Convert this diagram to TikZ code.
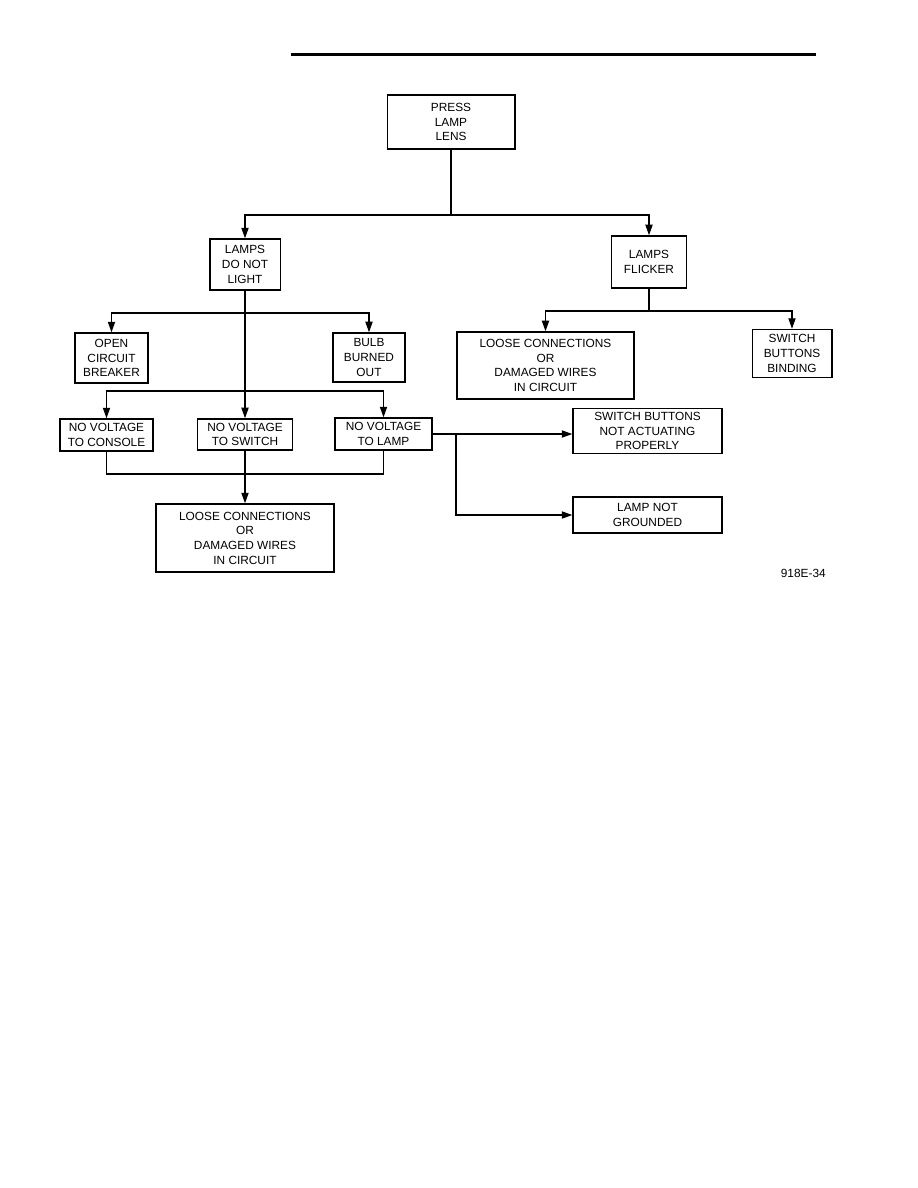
\documentclass[tikz,border=0pt]{standalone}
\usepackage{fontspec}
\setmainfont{Liberation Sans}
\usetikzlibrary{arrows.meta}

\tikzset{
  box/.style={draw, line width=1pt, inner sep=1pt, align=center,
    font=\fontsize{7.9}{9.8}\selectfont},
  arw/.style={-{Triangle[length=7pt,width=4.8pt]}},
  wire/.style={line width=0.8pt}
}

\begin{document}
\begin{tikzpicture}[x=0.66667pt, y=-0.66667pt]
\useasboundingbox (0,0) rectangle (918,1188);
\draw [line width=2pt] (291,54) -- (816,54);

% first level
\node (press) [box, minimum width=85pt, minimum height=36pt] at (451,122) {PRESS\\LAMP\\LENS};
\node (nolight) [box, minimum width=47pt, minimum height=34pt] at (245,264.5) {LAMPS\\DO NOT\\LIGHT};
\node (flicker) [box, minimum width=50pt, minimum height=34.7pt] at (649,262) {LAMPS\\FLICKER};

% causes
\node (open) [box, minimum width=48.7pt, minimum height=33.3pt] at (111.5,358) {OPEN\\CIRCUIT\\BREAKER};
\node (bulb) [box, minimum width=48pt, minimum height=32.7pt] at (369,357.5) {BULB\\BURNED\\OUT};
\node (loosea) [box, minimum width=118pt, minimum height=44.7pt] at (545.5,365.5) {LOOSE CONNECTIONS\\OR\\DAMAGED WIRES\\IN CIRCUIT};
\node (binding) [box, minimum width=53pt, minimum height=32pt] at (792,353.5) {SWITCH\\BUTTONS\\BINDING};
\node (console) [box, minimum width=62pt, minimum height=21.3pt] at (106.5,435) {NO VOLTAGE\\TO CONSOLE};
\node (switch) [box, minimum width=63.3pt, minimum height=20.7pt] at (245,434.5) {NO VOLTAGE\\TO SWITCH};
\node (lamp) [box, minimum width=64.7pt, minimum height=21.3pt] at (383.5,434) {NO VOLTAGE\\TO LAMP};
\node (looseb) [box, minimum width=118.7pt, minimum height=45.3pt] at (245,538) {LOOSE CONNECTIONS\\OR\\DAMAGED WIRES\\IN CIRCUIT};
\node (actuating) [box, minimum width=99.3pt, minimum height=30pt] at (647.5,431) {SWITCH BUTTONS\\NOT ACTUATING\\PROPERLY};
\node (ground) [box, minimum width=99.3pt, minimum height=24pt] at (647.5,515) {LAMP NOT\\GROUNDED};

\node (fignum) [font=\fontsize{7.9}{9.8}\selectfont, anchor=east] at (831,573) {918E-34};

% connectors
\draw [wire] (press.south) -- (press.south |- 0,215) coordinate (busa);
\draw [wire, arw] (busa) -| (nolight.north);
\draw [wire, arw] (busa) -| (flicker.north);

\draw [wire, arw] (nolight.south) -- (switch.north);
\draw [wire, arw] (nolight.south |- 0,313) coordinate (busb) -| (open.north);
\draw [wire, arw] (busb) -| (bulb.north);
\draw [wire, arw] (nolight.south |- 0,391) coordinate (busc) -| (console.north);
\draw [wire, arw] (busc) -| (lamp.north);

\draw [wire] (console.south) |- (lamp.south |- 0,474) -- (lamp.south);
\draw [wire, arw] (switch.south) -- (looseb.north);

\draw [wire] (flicker.south) -- (flicker.south |- 0,311) coordinate (busd);
\draw [wire, arw] (busd) -| (loosea.north);
\draw [wire, arw] (busd) -| (binding.north);

\draw [wire, arw] (lamp.east) -- (lamp.east -| actuating.west);
\draw [wire, arw] (lamp.east -| 456,0) |- (ground.west);
\end{tikzpicture}
\end{document}
